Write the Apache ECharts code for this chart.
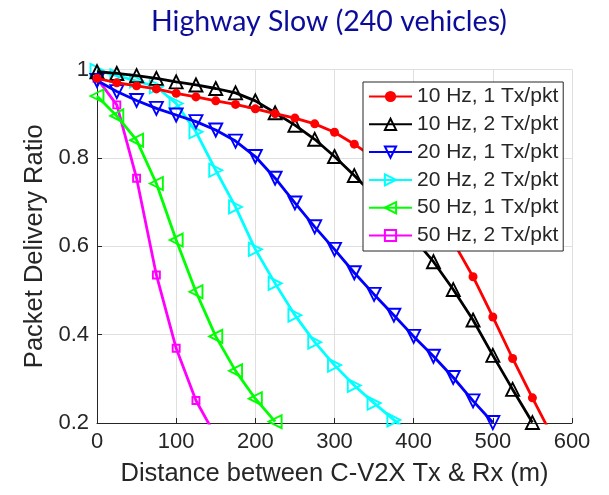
<!DOCTYPE html>
<html>
<head>
<meta charset="utf-8">
<script src="https://cdn.jsdelivr.net/npm/echarts@6/dist/echarts.min.js"></script>
<style>
html,body{margin:0;padding:0;background:#fff;}
#chart{width:609px;height:495px;}
</style>
</head>
<body>
<div id="chart"></div>
<script>
// Distances (m) at which values were sampled
const distances = [0,25,50,75,100,125,150,175,200,225,250,275,300,325,350,375,400,425,450,475,500,525,550,575];
const seriesNames = ['10 Hz, 1 Tx/pkt','10 Hz, 2 Tx/pkt','20 Hz, 1 Tx/pkt','20 Hz, 2 Tx/pkt','50 Hz, 1 Tx/pkt','50 Hz, 2 Tx/pkt'];
const hz10tx1 = [0.98,0.97,0.963,0.956,0.946,0.938,0.929,0.921,0.911,0.90,0.89,0.877,0.858,0.831,0.80,0.77,0.73,0.68,0.61,0.531,0.44,0.346,0.257,0.17];
const hz10tx2 = [0.995,0.991,0.986,0.98,0.972,0.965,0.957,0.947,0.929,0.902,0.874,0.842,0.803,0.76,0.715,0.668,0.618,0.565,0.502,0.433,0.353,0.276,0.201];
const hz20tx1 = [0.975,0.95,0.93,0.912,0.897,0.882,0.863,0.838,0.803,0.754,0.698,0.644,0.593,0.54,0.491,0.444,0.396,0.351,0.303,0.25,0.201];
const hz20tx2 = [0.998,0.986,0.974,0.961,0.923,0.859,0.772,0.689,0.593,0.516,0.444,0.383,0.331,0.285,0.245,0.207,0.17];
const hz50tx1 = [0.94,0.895,0.84,0.742,0.614,0.497,0.396,0.318,0.255,0.203];
const hz50tx2 = [0.98,0.92,0.754,0.535,0.369,0.251,0.17];
const xTicks = [0,100,200,300,400,500,600];
const yTicks = [0.2,0.4,0.6,0.8,1];

const allValues = [hz10tx1,hz10tx2,hz20tx1,hz20tx2,hz50tx1,hz50tx2];
const colors = ['#ff0000','#000000','#0000ff','#00ffff','#00ff00','#ff00ff'];
const symbols = ['circle','triangle','triangle','triangle','triangle','rect'];
const rotates = [0,0,180,-90,90,0];
const sizes = [9,13,13,13,13,7];

function zip(vals){ return vals.map((v,i)=>[distances[i], v]); }

const series = allValues.map((vals,k)=>({
  name: seriesNames[k],
  type: 'line',
  data: zip(vals),
  clip: true,
  symbol: symbols[k],
  symbolRotate: rotates[k],
  symbolSize: sizes[k],
  showAllSymbol: true,
  lineStyle: {color: colors[k], width: 2.8},
  itemStyle: {
    color: k === 0 ? colors[k] : 'rgba(255,255,255,0)',
    borderColor: colors[k],
    borderWidth: k === 0 ? 0 : 1.9
  },
  emphasis: {disabled: true},
  animation: false,
  z: 10 - k
}));

const chart = echarts.init(document.getElementById('chart'), null, {renderer:'canvas'});
chart.setOption({
  backgroundColor: '#ffffff',
  animation: false,
  title: {
    text: 'Highway Slow (240 vehicles)',
    left: 324,
    textAlign: 'center',
    top: 2,
    textStyle: {fontFamily: 'Lato', fontSize: 28.5, fontWeight: 'normal', color: '#0c0c9a'}
  },
  grid: {left: 97, right: 37, top: 69.5, bottom: 72, containLabel: false},
  legend: {
    orient: 'vertical',
    left: 363,
    top: 82,
    padding: [4,5,5,5],
    itemWidth: 43,
    itemHeight: 14,
    itemGap: 6.8,
    backgroundColor: '#ffffff',
    borderColor: '#262626',
    borderWidth: 1,
    borderRadius: 0,
    z: 20,
    textStyle: {fontFamily: 'Liberation Sans', fontSize: 21, lineHeight: 21, color: '#262626', padding: [0,0,0,0]},
    data: seriesNames
  },
  xAxis: {
    type: 'value',
    min: xTicks[0], max: xTicks[xTicks.length-1], interval: 100,
    name: 'Distance between C-V2X Tx & Rx (m)',
    nameLocation: 'middle',
    nameGap: 38,
    nameTextStyle: {fontFamily: 'Liberation Sans', fontSize: 25.5, color: '#262626'},
    axisLine: {show: true, lineStyle: {color: '#262626', width: 1}},
    axisTick: {show: true, inside: true, length: 5, lineStyle: {color: '#262626'}},
    axisLabel: {fontFamily: 'Liberation Sans', fontSize: 22, color: '#262626', margin: 8},
    splitLine: {show: true, lineStyle: {color: '#dfdfdf', width: 1}}
  },
  yAxis: {
    type: 'value',
    min: 0.2, max: 1, interval: 0.2,
    name: 'Packet Delivery Ratio',
    nameLocation: 'middle',
    nameGap: 44,
    nameTextStyle: {fontFamily: 'Liberation Sans', fontSize: 25.5, color: '#262626'},
    axisLine: {show: true, lineStyle: {color: '#262626', width: 1}},
    axisTick: {show: true, inside: true, length: 5, lineStyle: {color: '#262626'}},
    axisLabel: {fontFamily: 'Liberation Sans', fontSize: 22, color: '#262626', margin: 8,
      formatter: v => String(Math.round(v*10)/10)},
    splitLine: {show: true, lineStyle: {color: '#dfdfdf', width: 1}}
  },
  series: series
});
</script>
</body>
</html>
